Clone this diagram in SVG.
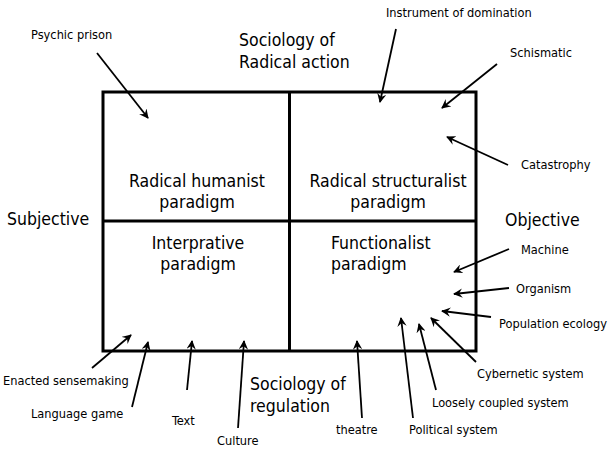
<svg xmlns="http://www.w3.org/2000/svg" width="608" height="450" viewBox="0 0 608 450">
<defs>
<style>
text{font-family:"DejaVu Sans Condensed","DejaVu Sans",sans-serif;font-stretch:condensed;fill:#000}
.big{font-size:17.5px}
.sm{font-size:12.7px}
.mid{text-anchor:middle}
.frame{fill:none;stroke:#000;stroke-width:3}
.arr{fill:none;stroke:#000;stroke-width:1.8;marker-end:url(#ah)}
</style>
<marker id="ah" viewBox="0 0 10 10" refX="9" refY="5" markerWidth="5.2" markerHeight="5.2" orient="auto" markerUnits="strokeWidth">
<path d="M0,0 L10,5 L0,10 L3.5,5 z" fill="#000"/>
</marker>
</defs>
<rect width="608" height="450" fill="#fff"/>
<g id="grid">
<rect class="frame" x="103" y="92" width="373" height="259"/>
<line class="frame" x1="289.5" y1="92" x2="289.5" y2="351"/>
<line class="frame" x1="103" y1="221" x2="476" y2="221"/>
</g>
<g id="radical-humanist"><text class="big mid" x="197" y="187">Radical humanist</text><text class="big mid" x="197" y="208">paradigm</text></g>
<g id="radical-structuralist"><text class="big mid" x="388" y="187">Radical structuralist</text><text class="big mid" x="388" y="208">paradigm</text></g>
<g id="interpretive"><text class="big mid" x="198" y="249">Interprative</text><text class="big mid" x="198" y="270">paradigm</text></g>
<g id="functionalist"><text class="big" x="331" y="249">Functionalist</text><text class="big" x="331" y="270">paradigm</text></g>
<g id="axes">
<text class="big" x="239" y="46">Sociology of</text><text class="big" x="239" y="68">Radical action</text>
<text class="big" x="250" y="390">Sociology of</text><text class="big" x="250" y="412">regulation</text>
<text class="big" x="7" y="225">Subjective</text>
<text class="big" x="505" y="226">Objective</text>
</g>
<g id="labels" class="sm">
<text class="sm" x="31" y="39">Psychic prison</text>
<text class="sm" x="386" y="17">Instrument of domination</text>
<text class="sm" x="510" y="57">Schismatic</text>
<text class="sm" x="521" y="169">Catastrophy</text>
<text class="sm" x="521" y="254">Machine</text>
<text class="sm" x="516" y="293">Organism</text>
<text class="sm" x="499" y="328">Population ecology</text>
<text class="sm" x="477" y="378">Cybernetic system</text>
<text class="sm" x="432" y="407">Loosely coupled system</text>
<text class="sm" x="409" y="434">Political system</text>
<text class="sm" x="336" y="434">theatre</text>
<text class="sm" x="217" y="445">Culture</text>
<text class="sm" x="172" y="425">Text</text>
<text class="sm" x="31" y="418">Language game</text>
<text class="sm" x="3" y="385">Enacted sensemaking</text>
</g>
<g id="connectors">
<line class="arr" x1="97" y1="53" x2="148" y2="118"/>
<line class="arr" x1="396" y1="29" x2="380" y2="102"/>
<line class="arr" x1="497" y1="64" x2="442" y2="108"/>
<line class="arr" x1="508" y1="165" x2="447" y2="137"/>
<line class="arr" x1="509" y1="249" x2="454" y2="272"/>
<line class="arr" x1="509" y1="288" x2="454" y2="294"/>
<line class="arr" x1="491" y1="317" x2="442" y2="311"/>
<line class="arr" x1="476" y1="362" x2="431" y2="318"/>
<line class="arr" x1="436" y1="390" x2="419" y2="324"/>
<line class="arr" x1="413" y1="418" x2="401" y2="318"/>
<line class="arr" x1="362" y1="418" x2="357" y2="341"/>
<line class="arr" x1="238" y1="428" x2="244" y2="341"/>
<line class="arr" x1="187" y1="390" x2="192" y2="341"/>
<line class="arr" x1="132" y1="407" x2="148" y2="342"/>
<line class="arr" x1="92" y1="368" x2="131" y2="335"/>
</g>
</svg>
